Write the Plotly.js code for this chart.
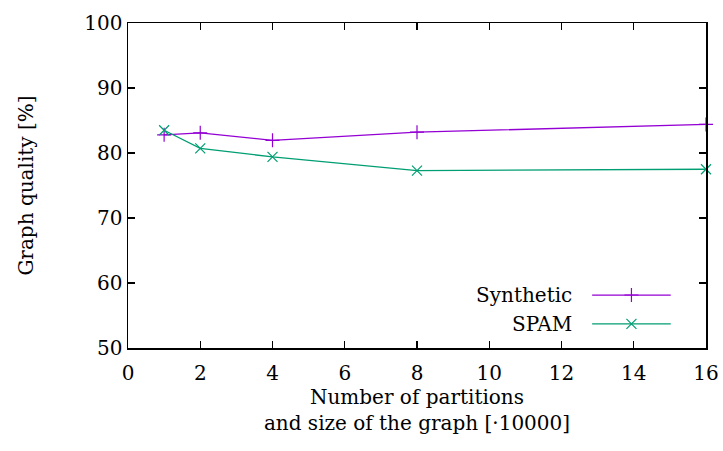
<!DOCTYPE html>
<html>
<head>
<meta charset="utf-8">
<script src="https://cdn.plot.ly/plotly-3.0.1.min.js"></script>
<style>
  html, body { margin: 0; padding: 0; background: #fff; }
  #chart { width: 723px; height: 451px; }
</style>
</head>
<body>
<div id="chart"></div>
<script>
// Partition counts (graph size in units of 10000)
const partitions = [1, 2, 4, 8, 16];
// Graph quality [%] per dataset
const syntheticQuality = [82.8, 83.1, 81.95, 83.2, 84.4];
const spamQuality = [83.5, 80.7, 79.4, 77.3, 77.5];

const seriesNames = ['Synthetic', 'SPAM'];
const seriesColors = ['#9400d3', '#009e73'];
const seriesSymbols = ['cross-thin-open', 'x-thin-open'];

const xTicks = [0, 2, 4, 6, 8, 10, 12, 14, 16];
const yTicks = [50, 60, 70, 80, 90, 100];

const FONT = '"DejaVu Serif", serif';
const FS = 20;

const traces = [syntheticQuality, spamQuality].map((ys, i) => ({
  x: partitions,
  y: ys,
  name: seriesNames[i],
  type: 'scatter',
  mode: 'lines+markers',
  line: { color: seriesColors[i], width: 1.3 },
  marker: {
    symbol: seriesSymbols[i],
    size: 10,
    color: seriesColors[i],
    line: { color: seriesColors[i], width: 1.2 }
  },
  showlegend: false,
  cliponaxis: false
}));

// Key in the lower right: label text on the left, sample line with marker on the right
const keyRows = [0.163, 0.074];
const keyTextX = 0.772;
const keyLine = [0.803, 0.939];
const annotations = [];
const shapes = [];
seriesNames.forEach((name, i) => {
  annotations.push({
    xref: 'paper', yref: 'paper', x: keyTextX, y: keyRows[i],
    xanchor: 'right', yanchor: 'middle', showarrow: false,
    text: name, font: { family: FONT, size: FS, color: '#000' }
  });
  shapes.push({
    type: 'line', xref: 'paper', yref: 'paper',
    x0: keyLine[0], x1: keyLine[1], y0: keyRows[i], y1: keyRows[i],
    line: { color: seriesColors[i], width: 1.3 }
  });
  // marker glyph on the key line, drawn on an overlay axis pair
  traces.push({
    x: [(keyLine[0] + keyLine[1]) / 2],
    y: [keyRows[i]],
    xaxis: 'x2', yaxis: 'y2', type: 'scatter', mode: 'markers',
    marker: { symbol: seriesSymbols[i], size: 10, color: seriesColors[i],
              line: { color: seriesColors[i], width: 1.2 } },
    showlegend: false, hoverinfo: 'skip'
  });
});

const layout = {
  width: 723,
  height: 451,
  margin: { l: 128, r: 17, t: 23, b: 103, pad: 0 },
  paper_bgcolor: '#fff',
  plot_bgcolor: '#fff',
  font: { family: FONT, size: FS, color: '#000' },
  showlegend: false,
  xaxis: {
    range: [0, 16],
    tickvals: xTicks,
    ticktext: xTicks.map(String),
    ticks: 'inside', ticklen: 7, tickwidth: 1.2, tickcolor: '#000',
    ticklabelstandoff: 6,
    showline: true, linecolor: '#000', linewidth: 1.5, mirror: 'ticks',
    showgrid: false, zeroline: false,
    tickfont: { family: FONT, size: FS },
    title: {
      text: 'Number of partitions<br>and size of the graph [·10000]',
      font: { family: FONT, size: FS },
      standoff: 4
    },
    automargin: false
  },
  yaxis: {
    range: [50, 100],
    tickvals: yTicks,
    ticktext: yTicks.map(String),
    ticks: 'inside', ticklen: 7, tickwidth: 1.2, tickcolor: '#000',
    showline: true, linecolor: '#000', linewidth: 1.5, mirror: 'ticks',
    showgrid: false, zeroline: false,
    tickfont: { family: FONT, size: FS },
    title: {
      text: 'Graph quality [%]',
      font: { family: FONT, size: FS },
      standoff: 45
    },
    automargin: false
  },
  xaxis2: { overlaying: 'x', range: [0, 1], visible: false, fixedrange: true },
  yaxis2: { overlaying: 'y', range: [0, 1], visible: false, fixedrange: true },
  annotations: annotations,
  shapes: shapes
};

Plotly.newPlot('chart', traces, layout, { displayModeBar: false, staticPlot: true });
</script>
</body>
</html>
